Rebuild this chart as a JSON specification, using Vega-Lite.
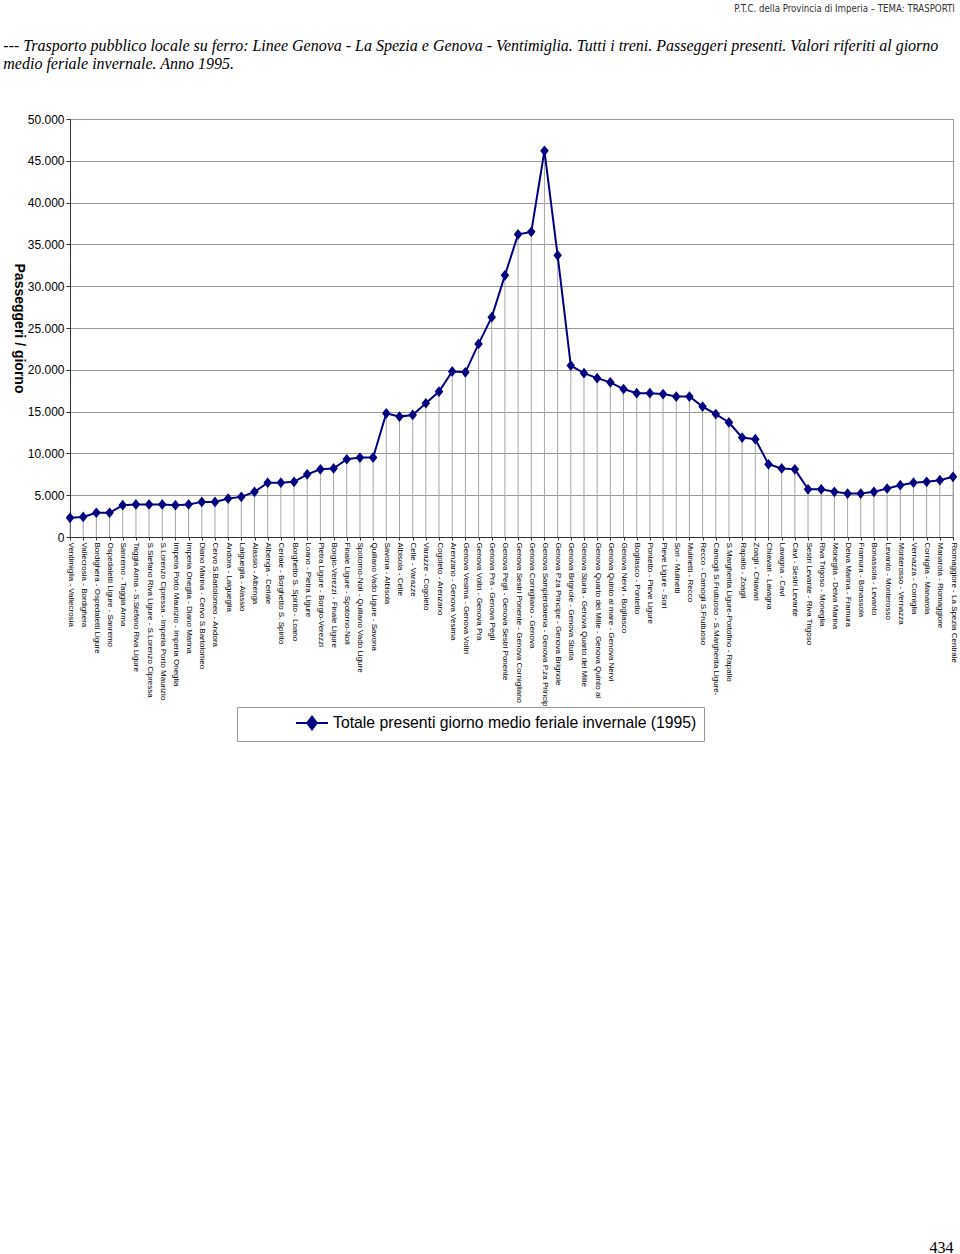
{
  "$schema": "https://vega.github.io/schema/vega-lite/v6.json",
  "background": "white",
  "padding": {"left": 2, "top": 3, "right": 2, "bottom": 0},
  "config": {"view": {"stroke": "#999999"}, "font": "Liberation Sans"},
  "title": {
    "text": "P.T.C. della Provincia di Imperia – TEMA: TRASPORTI",
    "anchor": "end",
    "fontSize": 9.6,
    "font": "Liberation Sans Narrow, DejaVu Sans Condensed, Liberation Sans",
    "fontWeight": "normal",
    "color": "#333333",
    "offset": 24,
    "dx": -3
  },
  "vconcat": [
    {
      "width": 883,
      "height": 418,
      "title": {
        "text": [
          "--- Trasporto pubblico locale su ferro: Linee Genova - La Spezia e Genova - Ventimiglia. Tutti i treni. Passeggeri presenti. Valori riferiti al giorno",
          "medio feriale invernale. Anno 1995."
        ],
        "anchor": "start",
        "frame": "bounds",
        "font": "Liberation Serif",
        "fontStyle": "italic",
        "fontWeight": "normal",
        "fontSize": 16,
        "lineHeight": 18,
        "color": "#000000",
        "offset": 41,
        "dx": -8
      },
      "data": {
        "values": [
          {"tratta": "Ventimiglia - Vallecrosia", "passeggeri": 2300},
          {"tratta": "Vallecrosia - Bordighera", "passeggeri": 2400},
          {"tratta": "Bordighera - Ospedaletti Ligure", "passeggeri": 2900},
          {"tratta": "Ospedaletti Ligure - Sanremo", "passeggeri": 2900},
          {"tratta": "Sanremo - Taggia Arma", "passeggeri": 3800},
          {"tratta": "Taggia Arma - S.Stefano Riva Ligure", "passeggeri": 3900},
          {"tratta": "S.Stefano Riva Ligure - S.Lorenzo Cipressa", "passeggeri": 3900},
          {"tratta": "S.Lorenzo Cipressa - Imperia Porto Maurizio", "passeggeri": 3900},
          {"tratta": "Imperia Porto Maurizio - Imperia Oneglia", "passeggeri": 3800},
          {"tratta": "Imperia Oneglia - Diano Marina", "passeggeri": 3900},
          {"tratta": "Diano Marina - Cervo S.Bartolomeo", "passeggeri": 4200},
          {"tratta": "Cervo S.Bartolomeo - Andora", "passeggeri": 4200},
          {"tratta": "Andora - Laigueglia", "passeggeri": 4600},
          {"tratta": "Laigueglia - Alassio", "passeggeri": 4800},
          {"tratta": "Alassio - Albenga", "passeggeri": 5400},
          {"tratta": "Albenga - Ceriale", "passeggeri": 6500},
          {"tratta": "Ceriale - Borghetto S. Spirito", "passeggeri": 6500},
          {"tratta": "Borghetto S. Spirito - Loano", "passeggeri": 6600},
          {"tratta": "Loano - Pietra Ligure", "passeggeri": 7500},
          {"tratta": "Pietra Ligure - Borgio-Verezzi", "passeggeri": 8100},
          {"tratta": "Borgio-Verezzi - Finale Ligure", "passeggeri": 8200},
          {"tratta": "Finale Ligure - Spotorno-Noli", "passeggeri": 9300},
          {"tratta": "Spotorno-Noli - Quiliano Vado Ligure", "passeggeri": 9500},
          {"tratta": "Quiliano Vado Ligure - Savona", "passeggeri": 9500},
          {"tratta": "Savona - Albisola", "passeggeri": 14800},
          {"tratta": "Albisola - Celle", "passeggeri": 14400},
          {"tratta": "Celle - Varazze", "passeggeri": 14600},
          {"tratta": "Varazze - Cogoleto", "passeggeri": 16000},
          {"tratta": "Cogoleto - Arenzano", "passeggeri": 17400},
          {"tratta": "Arenzano - Genova Vesima", "passeggeri": 19800},
          {"tratta": "Genova Vesima - Genova Voltri", "passeggeri": 19700},
          {"tratta": "Genova Voltri - Genova Prà", "passeggeri": 23100},
          {"tratta": "Genova Prà - Genova Pegli", "passeggeri": 26300},
          {"tratta": "Genova Pegli - Genova Sestri Ponente", "passeggeri": 31300},
          {"tratta": "Genova Sestri Ponente - Genova Cornigliano", "passeggeri": 36200},
          {"tratta": "Genova Cornigliano - Genova", "passeggeri": 36500},
          {"tratta": "Genova Sampierdarena - Genova P.za Princip", "passeggeri": 46200},
          {"tratta": "Genova P.za Principe - Genova Brignole", "passeggeri": 33700},
          {"tratta": "Genova Brignole - Genova Sturla", "passeggeri": 20500},
          {"tratta": "Genova Sturla - Genova Quarto dei Mille", "passeggeri": 19600},
          {"tratta": "Genova Quarto dei Mille - Genova Quinto al", "passeggeri": 19000},
          {"tratta": "Genova Quinto al mare - Genova Nervi", "passeggeri": 18500},
          {"tratta": "Genova Nervi - Bogliasco", "passeggeri": 17700},
          {"tratta": "Bogliasco - Pontetto", "passeggeri": 17200},
          {"tratta": "Pontetto - Pieve Ligure", "passeggeri": 17200},
          {"tratta": "Pieve Ligure - Sori", "passeggeri": 17100},
          {"tratta": "Sori - Mulinetti", "passeggeri": 16800},
          {"tratta": "Mulinetti - Recco", "passeggeri": 16800},
          {"tratta": "Recco - Camogli S.Fruttuoso", "passeggeri": 15600},
          {"tratta": "Camogli S.Fruttuoso - S.Margherita Ligure-", "passeggeri": 14700},
          {"tratta": "S.Margherita Ligure-Portofino - Rapallo", "passeggeri": 13700},
          {"tratta": "Rapallo - Zoagli", "passeggeri": 11900},
          {"tratta": "Zoagli - Chiavari", "passeggeri": 11700},
          {"tratta": "Chiavari - Lavagna", "passeggeri": 8700},
          {"tratta": "Lavagna - Cavi", "passeggeri": 8200},
          {"tratta": "Cavi - Sestri Levante", "passeggeri": 8100},
          {"tratta": "Sestri Levante - Riva Trigoso", "passeggeri": 5700},
          {"tratta": "Riva Trigoso - Moneglia", "passeggeri": 5700},
          {"tratta": "Moneglia - Deiva Marina", "passeggeri": 5400},
          {"tratta": "Deiva Marina - Framura", "passeggeri": 5200},
          {"tratta": "Framura - Bonassola", "passeggeri": 5200},
          {"tratta": "Bonassola - Levanto", "passeggeri": 5400},
          {"tratta": "Levanto - Monterosso", "passeggeri": 5800},
          {"tratta": "Monterosso - Vernazza", "passeggeri": 6200},
          {"tratta": "Vernazza - Corniglia", "passeggeri": 6500},
          {"tratta": "Corniglia - Manarola", "passeggeri": 6600},
          {"tratta": "Manarola - Riomaggiore", "passeggeri": 6800},
          {"tratta": "Riomaggiore - La Spezia Centrale", "passeggeri": 7200}
        ]
      },
      "encoding": {
        "x": {
          "field": "tratta",
          "type": "nominal",
          "sort": null,
          "scale": {"type": "point", "padding": 0},
          "axis": {
            "title": "434",
            "titleAnchor": "end",
            "titleFont": "Liberation Serif",
            "titleFontSize": 16,
            "titleFontWeight": "normal",
            "titleColor": "#000000",
            "titleBaseline": "alphabetic",
            "titleY": 715,
            "labelAngle": 90,
            "labelFontSize": 8,
            "labelFont": "Liberation Sans",
            "labelColor": "#000000",
            "labelPadding": 2,
            "labelOverlap": false,
            "labelLimit": 300,
            "tickSize": 3,
            "tickColor": "#333333",
            "domainColor": "#333333",
            "grid": false
          }
        },
        "y": {
          "field": "passeggeri",
          "type": "quantitative",
          "scale": {"domain": [0, 50000], "nice": false},
          "axis": {
            "values": [0, 5000, 10000, 15000, 20000, 25000, 30000, 35000, 40000, 45000, 50000],
            "labelExpr": "replace(format(datum.value, ','), ',', '.')",
            "labelFontSize": 12,
            "labelFont": "Liberation Sans",
            "labelColor": "#000000",
            "labelPadding": 2,
            "tickSize": 4,
            "tickColor": "#333333",
            "domainColor": "#333333",
            "gridColor": "#999999",
            "gridWidth": 1,
            "title": "Passeggeri / giorno",
            "titleAngle": 90,
            "titleBaseline": "top",
            "titleFont": "Liberation Sans",
            "titleFontSize": 14,
            "titleFontWeight": "bold",
            "titleColor": "#000000",
            "titlePadding": 2
          }
        }
      },
      "layer": [
        {
          "mark": {"type": "rule", "color": "#a6a6a6", "strokeWidth": 1},
          "encoding": {"y2": {"datum": 0}}
        },
        {
          "mark": {"type": "line", "strokeWidth": 2},
          "encoding": {
            "color": {
              "datum": "Totale presenti giorno medio feriale invernale (1995)",
              "type": "nominal",
              "scale": {"range": ["#000080"]}
            }
          }
        },
        {
          "mark": {
            "type": "point",
            "filled": true,
            "opacity": 1,
            "shape": "M0,-1L0.8,0L0,1L-0.8,0Z",
            "size": 115
          },
          "encoding": {
            "color": {
              "datum": "Totale presenti giorno medio feriale invernale (1995)",
              "type": "nominal",
              "scale": {"range": ["#000080"]},
              "legend": {
                "title": null,
                "orient": "none",
                "legendX": 167,
                "legendY": 588,
                "strokeColor": "#999999",
                "fillColor": "#ffffff",
                "padding": 7,
                "symbolType": "M-2,0L2,0M0,-0.8L0.6,0L0,0.8L-0.6,0Z",
                "symbolSize": 256,
                "symbolOffset": 59,
                "symbolStrokeWidth": 2,
                "symbolStrokeColor": "#000080",
                "symbolFillColor": "#000080",
                "labelFont": "Liberation Sans",
                "labelFontSize": 15.75,
                "labelColor": "#000000",
                "labelOffset": 12,
                "labelLimit": 1000,
                "encode": {
                  "symbols": {
                    "update": {
                      "fill": {"value": "#000080"},
                      "stroke": {"value": "#000080"},
                      "strokeWidth": {"value": 2},
                      "opacity": {"value": 1}
                    }
                  }
                }
              }
            }
          }
        }
      ]
    }
  ]
}
